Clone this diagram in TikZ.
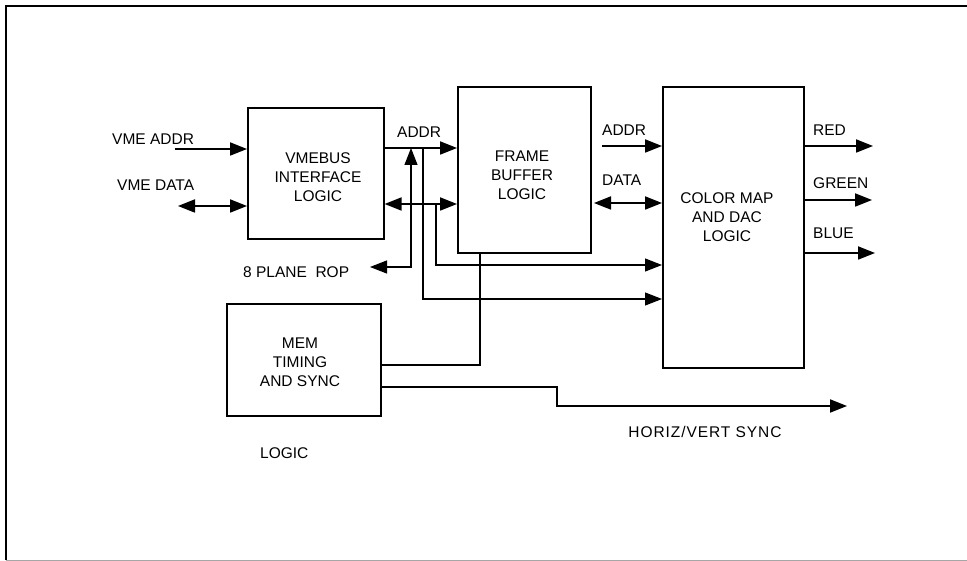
\documentclass[tikz,border=0pt]{standalone}
\usepackage{fontspec}
\setmainfont{Liberation Sans}
\usetikzlibrary{arrows.meta}
\begin{document}
\begin{tikzpicture}[x=1pt,y=-1pt,
  box/.style={draw, line width=1.6pt, anchor=north west, inner sep=0pt},
  txt/.style={font=\fontsize{15.5}{19}\selectfont, align=center, inner sep=0pt},
  lab/.style={font=\fontsize{15.5}{19}\selectfont, inner sep=0pt},
  bus/.style={line width=1.8pt},
  wire/.style={line width=1.1pt},
  tip/.style={-{Triangle[length=17pt,width=13pt]}},
  dtip/.style={{Triangle[length=17pt,width=13pt]}-{Triangle[length=17pt,width=13pt]}}]
\useasboundingbox (0,0) rectangle (967,561);
% frame
\draw[line width=1.8pt] (6,560) -- (6,6) -- (967,6);
\draw[gray!70, line width=0.8pt] (6,560) -- (967,560);
% boxes
\node[box, minimum width=136pt, minimum height=131pt] (vme) at (247,107) {};
\node[box, minimum width=133pt, minimum height=166pt] (fb) at (457,86) {};
\node[box, minimum width=141pt, minimum height=281pt] (cm) at (662,86) {};
\node[box, minimum width=154pt, minimum height=112pt] (mem) at (226,303) {};
% box texts
\node[txt] (vmet) at (318,177) {VMEBUS\\INTERFACE\\LOGIC};
\node[txt] (fbt) at (522,175) {FRAME\\BUFFER\\LOGIC};
\node[txt] (cmt) at (727,217) {COLOR MAP\\AND DAC\\LOGIC};
\node[txt] (memt) at (300,362) {MEM\\TIMING\\AND SYNC};
% labels
\node[lab, anchor=west] (lva) at (112,139) {VME ADDR};
\node[lab, anchor=west] (lvd) at (117,185) {VME DATA};
\node[lab, anchor=west] (lrop) at (243,272) {8 PLANE\ \ ROP};
\node[lab, anchor=west] (la1) at (397,132) {ADDR};
\node[lab, anchor=west] (la2) at (602,130) {ADDR};
\node[lab, anchor=west] (ld2) at (602,180) {DATA};
\node[lab, anchor=west] (lr) at (813,130) {RED};
\node[lab, anchor=west] (lg) at (813,183) {GREEN};
\node[lab, anchor=west] (lb) at (813,233) {BLUE};
\node[lab] (lsync) at (705,432) {\addfontfeatures{LetterSpace=6}HORIZ/VERT SYNC};
\node[lab, anchor=west] (llog) at (260,453) {LOGIC};
% coordinates
\coordinate (vaS) at (175,149);
\coordinate (vdS) at (178,206);
\coordinate (ropE) at (370,267);
\coordinate (jA) at (411,148);
\coordinate (jAb) at (411,267);
\coordinate (jB) at (423,148);
\coordinate (jBb) at (423,299);
\coordinate (jC) at (436,204);
\coordinate (jCb) at (436,265);
\coordinate (a2S) at (602,146);
\coordinate (d2S) at (594,203);
\coordinate (rE) at (873,146);
\coordinate (gE) at (872,200);
\coordinate (bE) at (875,253);
\coordinate (m1) at (480,365);
\coordinate (s1) at (557,387);
\coordinate (s2) at (557,406);
\coordinate (sE) at (847,406);
% connectors
\draw[bus, tip] (vaS) -- (vme.west |- vaS);
\draw[bus, dtip] (vdS) -- (vme.west |- vdS);
\draw[bus, tip] (vme.east |- jA) -- (fb.west |- jA);
\draw[bus, dtip] (vme.east |- jC) -- (fb.west |- jC);
\draw[wire, dtip] (jA) -- (jAb) -- (ropE);
\draw[wire, tip] (jB) -- (jBb) -- (cm.west |- jBb);
\draw[wire, tip] (jC) -- (jCb) -- (cm.west |- jCb);
\draw[bus, tip] (a2S) -- (cm.west |- a2S);
\draw[bus, dtip] (d2S) -- (cm.west |- d2S);
\draw[bus, tip] (cm.east |- rE) -- (rE);
\draw[bus, tip] (cm.east |- gE) -- (gE);
\draw[bus, tip] (cm.east |- bE) -- (bE);
\draw[wire] (mem.east |- m1) -- (m1) -- (fb.south -| m1);
\draw[bus, tip] (mem.east |- s1) -- (s1) -- (s2) -- (sE);
\end{tikzpicture}
\end{document}
